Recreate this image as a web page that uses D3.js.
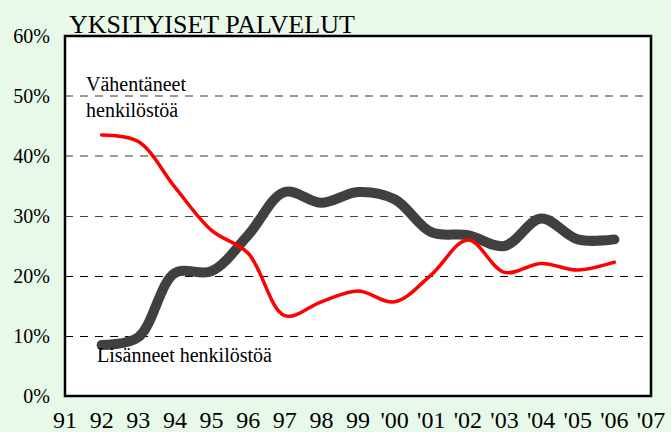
<!DOCTYPE html>
<html>
<head>
<meta charset="utf-8">
<script src="https://cdn.jsdelivr.net/npm/d3@7"></script>
<style>
    html, body { margin: 0; padding: 0; background: #e9f9e9; }
    svg { display: block; }
    svg text { font-family: "Liberation Serif", "DejaVu Serif", "Times New Roman", Times, serif; fill: #000; }
</style>
</head>
<body>
<div id="chart"></div>
<script>
const title = "YKSITYISET PALVELUT";
const years = [1992, 1993, 1994, 1995, 1996, 1997, 1998, 1999, 2000, 2001, 2002, 2003, 2004, 2005, 2006];
const decreased = [43.5, 42.4, 34.8, 27.6, 23.8, 13.4, 15.7, 17.5, 15.7, 20.2, 26.0, 20.6, 22.1, 21.0, 22.3];
const increased = [8.5, 9.8, 20.5, 20.8, 26.8, 34.0, 32.2, 34.0, 32.8, 27.3, 26.8, 25.0, 29.6, 26.1, 26.1];
const xTickYears = d3.range(1991, 2008);
const yTicks = [0, 10, 20, 30, 40, 50, 60];
const gridTicks = [10, 20, 30, 40, 50];

const serif = "'Liberation Serif', 'DejaVu Serif', serif";

const width = 671;
const height = 432;
const margin = { left: 65, top: 36, right: 20, bottom: 36 };

const svg = d3.select("#chart")
    .append("svg")
    .attr("width", width)
    .attr("height", height)
    .attr("viewBox", `0 0 ${width} ${height}`);

svg.append("rect")
    .attr("width", width)
    .attr("height", height)
    .attr("fill", "#e9f9e9");

const xScale = d3.scaleLinear()
    .domain([1991, 2007])
    .range([margin.left, width - margin.right]);

const yScale = d3.scaleLinear()
    .domain([0, 60])
    .range([height - margin.bottom, margin.top]);

// plot area
svg.append("rect")
    .attr("x", xScale(1991))
    .attr("y", yScale(60))
    .attr("width", xScale(2007) - xScale(1991))
    .attr("height", yScale(0) - yScale(60))
    .attr("fill", "#fff");

// the upper gridlines look softer grey in the original, lower ones crisp black
svg.selectAll(".grid")
    .data(gridTicks)
    .join("line")
        .attr("class", "grid")
        .attr("x1", xScale(1991))
        .attr("x2", xScale(2007))
        .attr("y1", d => d >= 40 ? yScale(d) : yScale(d) + 0.5)
        .attr("y2", d => d >= 40 ? yScale(d) : yScale(d) + 0.5)
        .attr("stroke", d => d >= 40 ? "#7a7a7a" : d === 30 ? "#444" : "#000")
        .attr("stroke-width", d => d >= 40 ? 1.6 : 1)
        .attr("stroke-dasharray", "8,7");

svg.append("rect")
    .attr("x", xScale(1991))
    .attr("y", yScale(60))
    .attr("width", xScale(2007) - xScale(1991))
    .attr("height", yScale(0) - yScale(60))
    .attr("fill", "none")
    .attr("stroke", "#000")
    .attr("stroke-width", 2.5);

// y tick labels
svg.selectAll(".y-label")
    .data(yTicks)
    .join("text")
        .attr("class", "y-label")
        .attr("text-anchor", "end")
        .attr("x", margin.left - 15)
        .attr("y", d => yScale(d) + 7)
        .style("font-family", serif)
        .style("font-size", "20px")
        .text(d => `${d}%`);

// x tick labels
svg.selectAll(".x-label")
    .data(xTickYears)
    .join("text")
        .attr("class", "x-label")
        .attr("text-anchor", "middle")
        .attr("x", d => xScale(d))
        .attr("y", height - 4)
        .style("font-family", serif)
        .style("font-size", "24px")
        .text(d => d < 2000 ? `${d % 100}` : `'${String(d % 100).padStart(2, "0")}`);

svg.append("text")
    .attr("x", xScale(1991) + 4)
    .attr("y", margin.top - 3)
    .style("font-family", serif)
    .style("font-size", "26px")
    .text(title);

const line = d3.line()
    .x((d, i) => xScale(years[i]))
    .y(d => yScale(d))
    .curve(d3.curveCatmullRom.alpha(0.5));

svg.append("path")
    .datum(increased)
    .attr("d", line)
    .attr("fill", "none")
    .attr("stroke", "#404040")
    .attr("stroke-width", 10)
    .attr("stroke-linecap", "round")
    .attr("stroke-linejoin", "round");

svg.append("path")
    .datum(decreased)
    .attr("d", line)
    .attr("fill", "none")
    .attr("stroke", "#ff0000")
    .attr("stroke-width", 3.5)
    .attr("stroke-linecap", "round")
    .attr("stroke-linejoin", "round");

// series labels
const labelDecreased = svg.append("text")
    .attr("x", 86)
    .attr("y", 91)
    .style("font-family", serif)
    .style("font-size", "20px");

labelDecreased.selectAll("tspan")
    .data(["Vähentäneet", "henkilöstöä"])
    .join("tspan")
        .attr("x", 86)
        .attr("dy", (_, i) => i === 0 ? 0 : "26px")
        .text(d => d);

svg.append("text")
    .attr("x", 97)
    .attr("y", 362)
    .style("font-family", serif)
    .style("font-size", "20px")
    .text("Lisänneet henkilöstöä");
</script>
</body>
</html>
